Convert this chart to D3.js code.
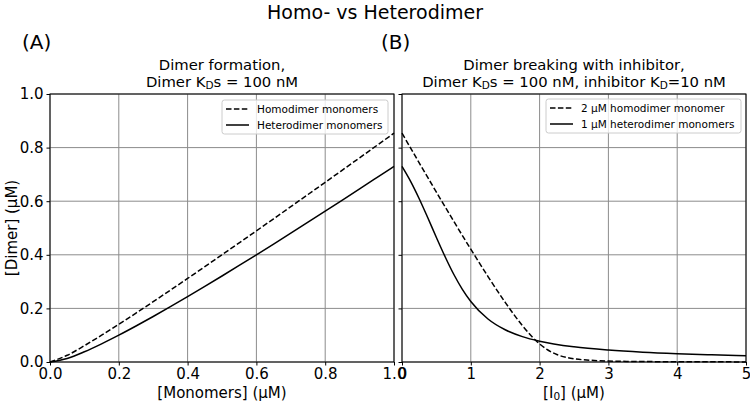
<!DOCTYPE html>
<html>
<head>
<meta charset="utf-8">
<script src="https://cdn.jsdelivr.net/npm/d3@7"></script>
<style>
  body { margin: 0; background: #fff; }
  text { font-family: "DejaVu Sans", sans-serif; fill: #000; }
</style>
</head>
<body>
<div id="chart"></div>
<script>
// Panel A: dimer vs total monomer (µM)
const monomers = [0, 0.05, 0.1, 0.15, 0.2, 0.25, 0.3, 0.35, 0.4, 0.45, 0.5, 0.55, 0.6, 0.65, 0.7, 0.75, 0.8, 0.85, 0.9, 0.95, 1.0];
const homoA = [0, 0.025, 0.061, 0.100, 0.1407, 0.1825, 0.225, 0.2681, 0.3117, 0.3557, 0.400, 0.4446, 0.4894, 0.5344, 0.5796, 0.625, 0.6705, 0.7162, 0.762, 0.8079, 0.8539];
const heteroA = [0, 0.0134, 0.0382, 0.0677, 0.100, 0.1342, 0.1697, 0.2064, 0.2438, 0.282, 0.3209, 0.3602, 0.400, 0.4402, 0.4807, 0.5216, 0.5628, 0.6042, 0.6459, 0.6878, 0.7298];

// Panel B: dimer vs inhibitor (µM)
const inhHomo = [0, 0.25, 0.5, 0.75, 1, 1.25, 1.5, 1.75, 1.9, 2, 2.1, 2.25, 2.4, 2.5, 2.75, 3, 3.5, 4, 5];
const homoB = [0.8539, 0.7432, 0.6337, 0.526, 0.4208, 0.3189, 0.2225, 0.1359, 0.0919, 0.0675, 0.0479, 0.0279, 0.0165, 0.0121, 0.0062, 0.0037, 0.0017, 0.001, 0.0004];
const inhHetero = [0, 0.125, 0.25, 0.375, 0.5, 0.625, 0.75, 0.875, 1, 1.25, 1.5, 1.75, 2, 2.5, 3, 3.5, 4, 4.5, 5];
const heteroB = [0.7298, 0.674, 0.6092, 0.5382, 0.4648, 0.3938, 0.3284, 0.2722, 0.226, 0.1604, 0.1202, 0.0948, 0.0776, 0.0566, 0.0444, 0.0364, 0.0309, 0.0268, 0.0236];

const yTicks = [0, 0.2, 0.4, 0.6, 0.8, 1.0];
const xTicksA = [0, 0.2, 0.4, 0.6, 0.8, 1.0];
const xTicksB = [0, 1, 2, 3, 4, 5];

const W = 750, H = 404;
const plotTop = 94, plotBottom = 362;

const svg = d3.select("#chart").append("svg")
    .attr("width", W)
    .attr("height", H);

const y = d3.scaleLinear().domain([0, 1]).range([plotBottom, plotTop]);

function panel(opts) {
    const x = d3.scaleLinear().domain(opts.xDomain).range([opts.left, opts.right]);
    const g = svg.append("g");

    // grid
    g.selectAll(".gx").data(opts.xTicks).enter().append("line")
        .attr("x1", d => x(d)).attr("x2", d => x(d))
        .attr("y1", plotTop).attr("y2", plotBottom)
        .attr("stroke", "#8c8c8c").attr("stroke-width", 1);
    g.selectAll(".gy").data(yTicks).enter().append("line")
        .attr("x1", opts.left).attr("x2", opts.right)
        .attr("y1", d => y(d)).attr("y2", d => y(d))
        .attr("stroke", "#8c8c8c").attr("stroke-width", 1);

    // axes
    const xAxis = g.append("g")
        .attr("transform", `translate(0,${plotBottom})`)
        .call(d3.axisBottom(x).tickValues(opts.xTicks).tickFormat(opts.xFormat).tickSize(3.5).tickPadding(3));
    xAxis.select(".domain").remove();
    xAxis.selectAll("text").style("font-size", "15px").style("font-family", "DejaVu Sans");

    const yAxis = g.append("g")
        .attr("transform", `translate(${opts.left},0)`)
        .call(d3.axisLeft(y).tickValues(yTicks).tickFormat(opts.yLabels ? d3.format(".1f") : "").tickSize(3.5).tickPadding(3));
    yAxis.select(".domain").remove();
    yAxis.selectAll("text").style("font-size", "15px").style("font-family", "DejaVu Sans");

    // curves
    const line = d3.line()
        .x(d => x(d[0])).y(d => y(d[1]))
        .curve(d3.curveMonotoneX);

    opts.series.forEach(s => {
        g.append("path")
            .datum(s.xs.map((v, i) => [v, s.ys[i]]))
            .attr("d", line)
            .attr("fill", "none")
            .attr("stroke", "#000")
            .attr("stroke-width", 1.5)
            .attr("stroke-dasharray", s.dash ? "5.5,2.4" : null);
    });

    // frame
    g.append("rect")
        .attr("x", opts.left).attr("y", plotTop)
        .attr("width", opts.right - opts.left).attr("height", plotBottom - plotTop)
        .attr("fill", "none").attr("stroke", "#000").attr("stroke-width", 1);

    // legend
    const lg = g.append("g");
    lg.append("rect")
        .attr("x", opts.legend.x).attr("y", opts.legend.y)
        .attr("width", opts.legend.w).attr("height", 34)
        .attr("rx", 2.5)
        .attr("fill", "#fff").attr("fill-opacity", 0.8)
        .attr("stroke", "#ccc").attr("stroke-width", 1);
    opts.series.forEach((s, i) => {
        const yy = opts.legend.y + 9 + i * 16;
        lg.append("line")
            .attr("x1", opts.legend.x + 4).attr("x2", opts.legend.x + 27)
            .attr("y1", yy).attr("y2", yy)
            .attr("stroke", "#000").attr("stroke-width", 1.5)
            .attr("stroke-dasharray", s.dash ? "5.5,2.4" : null);
        lg.append("text")
            .attr("x", opts.legend.x + 35).attr("y", yy + 3.6)
            .style("font-size", "10.5px")
            .text(s.name);
    });

    // x label
    const cx = (opts.left + opts.right) / 2;
    const xl = g.append("text")
        .attr("x", cx).attr("y", 398)
        .attr("text-anchor", "middle")
        .style("font-size", "15px");
    opts.xLabel(xl);

    // panel title
    g.append("text")
        .attr("x", cx).attr("y", 70)
        .attr("text-anchor", "middle")
        .style("font-size", "14.8px")
        .text(opts.title1);
    const t2 = g.append("text")
        .attr("x", cx).attr("y", 87)
        .attr("text-anchor", "middle")
        .style("font-size", "14.8px");
    opts.title2(t2);

    // panel letter
    g.append("text")
        .attr("x", opts.letterX).attr("y", 49)
        .style("font-size", "20px")
        .text(opts.letter);
}

function sub(sel, parts) {
    parts.forEach(p => {
        if (p.sub) {
            sel.append("tspan").attr("baseline-shift", "-20%").style("font-size", "10.5px").text(p.t);
        } else {
            sel.append("tspan").text(p.t);
        }
    });
}

panel({
    left: 50, right: 394,
    xDomain: [0, 1], xTicks: xTicksA, xFormat: d3.format(".1f"),
    yLabels: true,
    series: [
        { name: "Homodimer monomers", xs: monomers, ys: homoA, dash: true },
        { name: "Heterodimer monomers", xs: monomers, ys: heteroA, dash: false }
    ],
    legend: { x: 222, y: 100, w: 166 },
    xLabel: s => s.text("[Monomers] (µM)"),
    title1: "Dimer formation,",
    title2: s => sub(s, [{ t: "Dimer K" }, { t: "D", sub: true }, { t: "s = 100 nM" }]),
    letter: "(A)", letterX: 22
});

panel({
    left: 402, right: 746,
    xDomain: [0, 5], xTicks: xTicksB, xFormat: d3.format("d"),
    yLabels: false,
    series: [
        { name: "2 µM homodimer monomer", xs: inhHomo, ys: homoB, dash: true },
        { name: "1 µM heterodimer monomers", xs: inhHetero, ys: heteroB, dash: false }
    ],
    legend: { x: 546, y: 99, w: 195 },
    xLabel: s => sub(s, [{ t: "[I" }, { t: "0", sub: true }, { t: "] (µM)" }]),
    title1: "Dimer breaking with inhibitor,",
    title2: s => sub(s, [{ t: "Dimer K" }, { t: "D", sub: true }, { t: "s = 100 nM, inhibitor K" }, { t: "D", sub: true }, { t: "=10 nM" }]),
    letter: "(B)", letterX: 381
});

// y label
svg.append("text")
    .attr("transform", `translate(17,${(plotTop + plotBottom) / 2}) rotate(-90)`)
    .attr("text-anchor", "middle")
    .style("font-size", "15px")
    .text("[Dimer] (µM)");

// main title
svg.append("text")
    .attr("x", 375).attr("y", 19)
    .attr("text-anchor", "middle")
    .style("font-size", "19px")
    .text("Homo- vs Heterodimer");
</script>
</body>
</html>
